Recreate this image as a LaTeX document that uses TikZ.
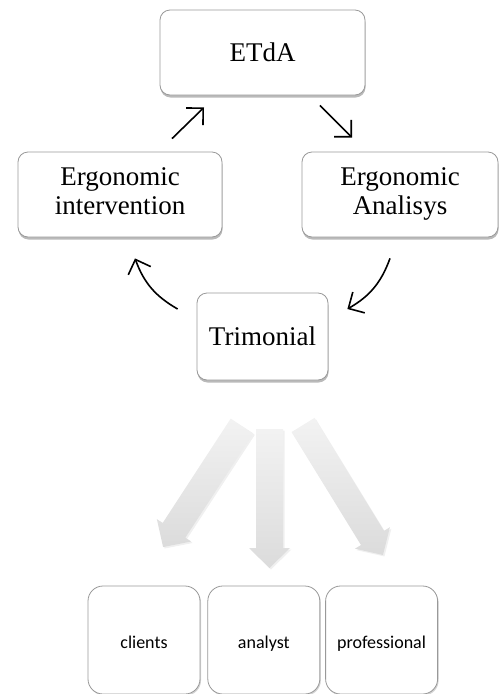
\documentclass[tikz,border=0pt]{standalone}
\usepackage{fontspec}
\setmainfont{Liberation Serif}
\newfontfamily\rolefont{Carlito}
\usetikzlibrary{positioning,shadows,arrows.meta}

\begin{document}
\begin{tikzpicture}[x=1pt, y=-1pt,
      stage/.style={rectangle, rounded corners=10pt, draw=black!40, fill=white, line width=0.8pt, inner sep=0pt, align=center,
        drop shadow={shadow xshift=0.5pt, shadow yshift=-2.5pt, opacity=0.45, fill=black!60},
        font=\fontsize{27}{28.5}\selectfont},
      role/.style={rectangle, rounded corners=15pt, draw=black!40, fill=white, line width=0.8pt, inner sep=0pt,
        minimum width=112pt, minimum height=108pt, text height=16pt, text depth=0pt,
        drop shadow={shadow xshift=1pt, shadow yshift=-1.5pt, opacity=0.35, fill=black!50},
        font=\rolefont\fontsize{18}{20}\selectfont},
      cyc/.style={-{Straight Barb[length=12pt,width=24pt]}, line width=1.6pt},
      bigarrow/.style={top color=black!5, bottom color=black!14, draw=none,
        drop shadow={shadow xshift=1.5pt, shadow yshift=-1.5pt, opacity=0.12}}]

\useasboundingbox (0,0) rectangle (499,694);

% cycle
\node[stage, minimum width=205pt, minimum height=85pt] (etda) at (262.5,52.5) {ETdA};
\node[stage, minimum width=204pt, minimum height=85pt] (interv) at (120,194.5) {Ergonomic\strut\\intervention\strut};
\node[stage, minimum width=196pt, minimum height=85pt] (analysis) at (400,194.5) {Ergonomic\strut\\Analisys\strut};
\node[stage, minimum width=131pt, minimum height=87pt] (trim) at (262.5,336.5) {Trimonial};

\draw[cyc] ([xshift=52pt,yshift=13pt]interv.north) -- ([xshift=-58.5pt,yshift=-12pt]etda.south);
\draw[cyc] ([xshift=57.5pt,yshift=-10pt]etda.south) -- ([xshift=-48pt,yshift=14pt]analysis.north);
\draw[cyc] ([xshift=-10pt,yshift=-21pt]analysis.south) to[bend left=20] ([xshift=19pt,yshift=27.5pt]trim.east);
\draw[cyc] ([xshift=-19pt,yshift=27.5pt]trim.west) to[bend left=20] ([xshift=15pt,yshift=-21pt]interv.south);

% block arrows
\foreach \px/\py/\ang/\len in {242/426/-123.1/144.5, 269.5/429/-90/139, 303/425/-58.4/152.6}
  \path[bigarrow, shift={(\px,\py)}, rotate=\ang] (0,-13.5) -- (\len-20,-13.5) -- (\len-20,-20.5) -- (\len,0)
    -- (\len-20,20.5) -- (\len-20,13.5) -- (0,13.5) -- cycle;

% roles
\node[role] (clients) at (144,640) {clients};
\node[role, right=7pt of clients] (analyst) {analyst};
\node[role, right=5pt of analyst] (prof) {professional};

\end{tikzpicture}
\end{document}
